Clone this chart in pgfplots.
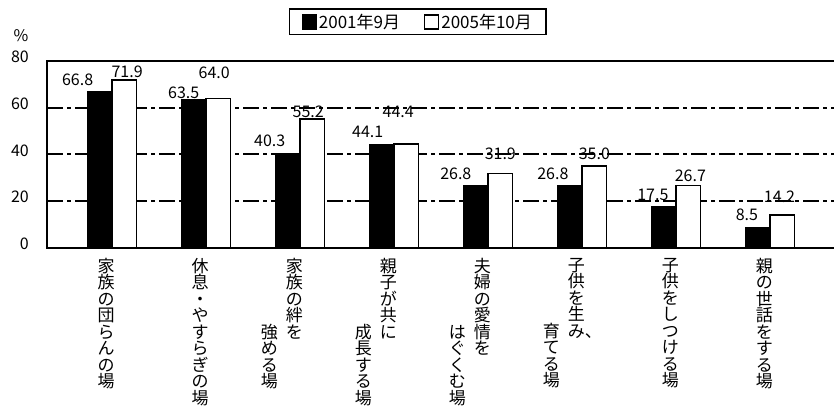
\documentclass[border=0pt]{standalone}
\usepackage{fontspec}
\setmainfont{Noto Sans CJK JP}
\usepackage{pgfplots}
\pgfplotsset{compat=1.18}
\usepackage{pgfplotstable}

% vertical (tategaki-style) category labels: one character per row
\newcommand{\vone}[1]{\vtop{\lineskiplimit=-\maxdimen\baselineskip=16.5pt\halign{\hfil##\hfil\cr#1\crcr}}}
\newcommand{\vtwo}[1]{\vtop{\lineskiplimit=-\maxdimen\baselineskip=16.5pt\halign{\hfil##\hfil&\hskip8pt\hfil##\hfil\cr#1\crcr}}}

\DeclareRobustCommand{\labA}{\vone{家\cr 族\cr の\cr 団\cr ら\cr ん\cr の\cr 場}}
\DeclareRobustCommand{\labB}{\vone{休\cr 息\cr ・\cr や\cr す\cr ら\cr ぎ\cr の\cr 場}}
\DeclareRobustCommand{\labC}{\vtwo{&家\cr &族\cr &の\cr &絆\cr 強&を\cr め&\cr る&\cr 場&}}
\DeclareRobustCommand{\labD}{\vtwo{&親\cr &子\cr &が\cr &共\cr 成&に\cr 長&\cr す&\cr る&\cr 場&}}
\DeclareRobustCommand{\labE}{\vtwo{&夫\cr &婦\cr &の\cr &愛\cr は&情\cr ぐ&を\cr く&\cr む&\cr 場&}}
\DeclareRobustCommand{\labF}{\vtwo{&子\cr &供\cr &を\cr &生\cr 育&み\rlap{、}\cr て&\cr る&\cr 場&}}
\DeclareRobustCommand{\labG}{\vone{子\cr 供\cr を\cr し\cr つ\cr け\cr る\cr 場}}
\DeclareRobustCommand{\labH}{\vone{親\cr の\cr 世\cr 話\cr を\cr す\cr る\cr 場}}

% x = category, y = percent, dx/dy = offset of the value label (pt)
\pgfplotstableread{
x y dx dy
0 66.8 -22 12.5
1 63.5 -10 7
2 40.3 -18 13
3 44.1 -14 13
4 26.8 -20 12
5 26.8 -17 12
6 17.5 -11 12
7 8.5 -11 13
}\sepA
\pgfplotstableread{
x y dx dy
0 71.9 3 8
1 64.0 -4 26
2 55.2 -4 7
3 44.4 -8 32
4 31.9 0 20
5 35.0 0 12
6 26.7 2 10
7 14.2 -3 18
}\octB

\begin{document}
\begin{tikzpicture}
\begin{axis}[
  at={(0pt,0pt)}, anchor=south west,
  scale only axis, width=789pt, height=187pt,
  xmin=-0.69, xmax=7.70, ymin=0, ymax=80,
  ybar=0pt, bar width=24.5pt,
  xtick={0,...,7},
  xticklabels={\labA,\labB,\labC,\labD,\labE,\labF,\labG,\labH},
  ytick={0,20,40,60,80},
  major tick length=0pt,
  axis line style={line width=2pt},
  ymajorgrids,
  grid style={black, line width=2pt, dash pattern=on 16pt off 4pt on 4pt off 4pt},
  xticklabel style={font=\fontsize{17}{16.5}\selectfont, anchor=north east, inner sep=0pt, xshift=3pt, yshift=-10pt},
  yticklabel style={font=\fontsize{16}{16}\selectfont, anchor=east, inner sep=0pt, xshift=-18pt, yshift=4pt},
  /pgf/number format/assume math mode=true,
  ylabel={\%},
  every axis y label/.style={at={(rel axis cs:0,1)}, anchor=center, xshift=-26pt, yshift=25pt, font=\fontsize{16}{16}\selectfont},
  legend style={at={(0.470,1.209)}, anchor=center, legend columns=2, draw=black, line width=1.3pt,
    font=\fontsize{17}{17}\selectfont, inner xsep=12pt, inner ysep=3pt,
    /tikz/every even column/.append style={column sep=22pt}},
  legend image code/.code={\draw[#1,line width=1.2pt] (0pt,-7pt) rectangle (14pt,7pt);},
  point meta=y,
  nodes near coords={\pgfmathprintnumber[fixed,fixed zerofill,precision=1]{\pgfplotspointmeta}},
]
\addplot[fill=black, draw=black, line width=1.5pt,
  visualization depends on={\thisrow{dx} \as \lx},
  visualization depends on={\thisrow{dy} \as \ly},
  every node near coord/.append style={font=\fontsize{16}{16}\selectfont, text=black, anchor=center, inner sep=0pt, xshift=\lx pt, yshift=\ly pt}]
  table[x=x, y=y] {\sepA};
\addplot[fill=white, draw=black, line width=1.5pt,
  visualization depends on={\thisrow{dx} \as \lx},
  visualization depends on={\thisrow{dy} \as \ly},
  every node near coord/.append style={font=\fontsize{16}{16}\selectfont, text=black, anchor=center, inner sep=0pt, xshift=\lx pt, yshift=\ly pt}]
  table[x=x, y=y] {\octB};
\legend{2001年9月, 2005年10月}
\end{axis}
\pgfresetboundingbox
\path[use as bounding box] (-47pt,-166pt) rectangle (787pt,248pt);
\end{tikzpicture}
\end{document}
